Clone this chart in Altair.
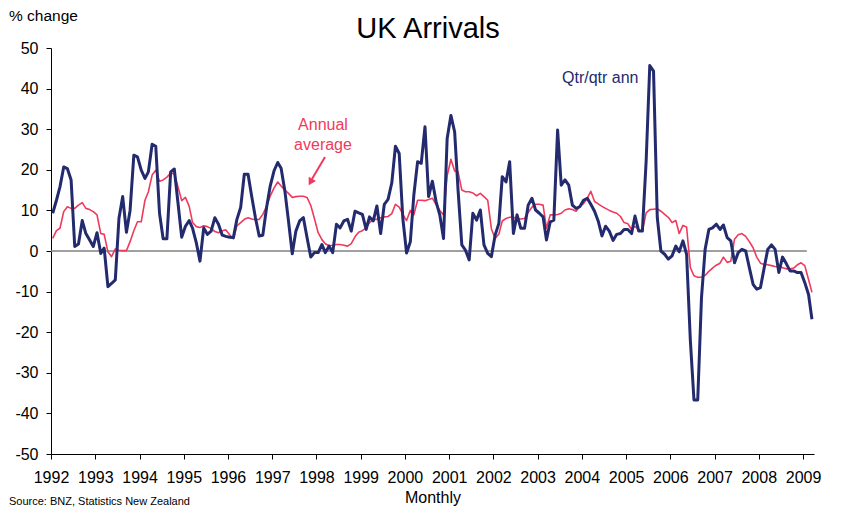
import altair as alt
import pandas as pd

# Quarter-on-quarter annualised % change, monthly from Jan 1992
qtr_ann = [
    9.3, 12.5, 15.8, 20.7, 20.3, 17.5, 1.1, 1.7, 7.5, 4.3, 2.7, 1.1,
    4.5, -0.6, 0.7, -8.8, -8.0, -7.1, 8.0, 13.4, 4.6, 10.0, 23.6, 23.2,
    19.9, 17.9, 19.5, 26.3, 25.8, 9.3, 3.0, 3.0, 19.5, 20.2, 11.7, 3.4,
    6.1, 7.5, 5.6, 2.0, -2.5, 5.7, 4.1, 4.9, 8.2, 6.6, 3.9, 3.6,
    3.4, 3.3, 7.8, 10.7, 18.9, 18.9, 13.5, 8.2, 3.7, 3.9, 10.7, 16.0,
    19.7, 21.8, 20.4, 14.8, 7.4, -0.7, 4.9, 7.4, 8.2, 3.3, -1.5, -0.4,
    -0.4, 1.6, -0.4, 1.2, -0.4, 6.6, 5.7, 7.4, 7.8, 4.9, 9.8, 9.4,
    9.0, 5.3, 8.4, 7.4, 11.1, 4.3, 11.5, 12.7, 16.8, 25.8, 24.0, 8.0,
    -0.5, 2.3, 13.8, 22.0, 21.6, 30.6, 13.4, 17.2, 12.1, 8.9, 3.1, 27.7,
    33.4, 29.3, 15.0, 1.5, 0.2, -2.2, 9.3, 7.6, 10.1, 1.5, -0.6, -1.4,
    3.9, 6.8, 18.3, 17.0, 22.0, 4.3, 8.9, 5.6, 5.6, 11.3, 13.0, 10.1,
    9.3, 8.4, 2.7, 7.2, 7.6, 29.8, 16.2, 17.5, 16.2, 11.3, 10.5, 10.9,
    12.5, 13.0, 11.5, 9.8, 7.4, 3.7, 6.1, 4.9, 2.6, 4.1, 4.3, 5.3,
    5.3, 4.3, 8.6, 4.9, 4.9, 22.1, 45.7, 44.3, 8.2, 0.0, -0.8, -2.0,
    -1.2, 1.2, -0.2, 2.5, -0.8, -22.0, -36.7, -36.7, -11.5, 0.4, 5.3, 5.7,
    6.6, 5.3, 6.4, 3.3, 2.5, -2.9, -0.4, 0.4, 0.0, -4.1, -8.2, -9.4,
    -9.0, -4.1, 0.4, 1.5, 0.4, -5.3, -1.5, -3.1, -4.9, -4.9, -5.3, -5.3,
    -7.8, -10.7, -16.8,
]

# Annual average % change, monthly from Jan 1992
annual_avg = [
    3.1, 5.0, 5.6, 9.7, 10.9, 10.5, 10.5, 11.3, 11.9, 10.5, 10.2, 9.7,
    8.9, 4.3, 4.1, -0.2, -1.4, 0.5, 0.2, 0.1, 0.1, 2.3, 5.0, 7.2,
    7.2, 12.5, 14.6, 18.7, 19.9, 17.2, 17.5, 18.2, 19.2, 19.0, 15.8, 12.4,
    13.2, 11.0, 7.0, 6.0, 5.8, 6.2, 6.0, 5.5, 4.8, 4.5, 5.0, 5.2,
    4.0, 3.0, 6.2, 7.0, 7.8, 8.2, 7.9, 7.7, 7.8, 9.0, 11.0, 13.5,
    15.5, 17.0, 16.0, 15.0, 14.2, 13.2, 13.4, 13.5, 13.5, 13.2, 11.2, 8.0,
    4.5, 2.8, 1.8, 1.3, 1.4, 1.6, 1.6, 1.4, 1.2, 1.8, 3.5, 4.6,
    5.0, 5.7, 7.0, 7.8, 7.8, 8.2, 8.4, 8.5, 9.2, 11.5, 10.8, 9.0,
    7.5, 10.0, 8.9, 12.5, 12.5, 12.4, 12.7, 13.0, 11.4, 10.0, 8.9, 18.5,
    22.6, 19.7, 19.5, 15.0, 14.6, 14.6, 14.3, 13.6, 14.2, 13.4, 12.5, 5.5,
    3.1, 4.2, 7.4, 8.0, 8.3, 8.3, 8.0, 7.9, 8.0, 9.5, 10.8, 11.5,
    11.5, 11.3, 5.6, 8.9, 8.9, 9.0, 9.3, 10.1, 10.4, 10.2, 9.8, 11.0,
    11.7, 13.0, 14.7, 12.2, 11.6, 11.0, 10.5, 10.0, 9.6, 9.3, 8.5, 7.0,
    6.7, 5.3, 6.1, 5.2, 4.9, 9.4, 10.2, 10.3, 10.4, 9.8, 9.0, 8.3,
    7.0, 7.5, 4.3, 6.3, 5.9, -4.1, -6.1, -6.5, -6.4, -6.0, -5.0, -4.2,
    -3.5, -3.0, -1.5, -2.8, -2.5, 2.9, 4.0, 4.3, 3.6, 2.3, 0.8, -1.5,
    -3.0, -3.3, -3.4, -3.6, -3.8, -3.9, -4.1, -4.4, -4.4, -4.2, -3.4, -2.9,
    -3.6, -7.0, -10.2,
]

years = list(range(1992, 2010))
y_ticks = list(range(-50, 51, 10))

BLUE = "#232B6E"
RED = "#EF3A5D"
FONT = "Liberation Sans"

dates = (pd.date_range("1992-01-01", periods=len(qtr_ann), freq="MS")
         + pd.Timedelta(days=14)).strftime("%Y-%m-%d")
df = pd.DataFrame({"date": dates, "qtr": qtr_ann, "avg": annual_avg})

x_scale = alt.Scale(domain=[alt.DateTime(year=1992, month=1, date=1),
                            alt.DateTime(year=2009, month=4, date=1)])
y_scale = alt.Scale(domain=[-50, 50], nice=False, zero=False)

x_axis = alt.Axis(values=[alt.DateTime(year=y, month=1, date=1) for y in years],
                  format="%Y", title=None, tickSize=5, labelFontSize=16,
                  labelPadding=10, labelFont=FONT, labelColor="black",
                  domainColor="black", tickColor="black", grid=False,
                  labelFlush=False, labelOverlap=False)
y_axis = alt.Axis(values=y_ticks, title=None, tickSize=5, labelFontSize=16,
                  labelPadding=8, labelFont=FONT, labelColor="black",
                  domainColor="black", tickColor="black", grid=False,
                  labelExpr="'' + datum.value")

base = alt.Chart(df)

zero_df = pd.DataFrame({"start": ["1992-01-01"], "end": ["2009-02-01"], "v": [0]})
zero_line = alt.Chart(zero_df).mark_rule(color="#808080", strokeWidth=1.5).encode(
    x=alt.X("start:T", scale=x_scale, axis=x_axis),
    x2="end:T",
    y=alt.Y("v:Q", scale=y_scale, axis=y_axis),
)

blue_line = base.mark_line(color=BLUE, strokeWidth=3, strokeJoin="round").encode(
    x=alt.X("date:T", scale=x_scale, axis=x_axis),
    y=alt.Y("qtr:Q", scale=y_scale, axis=y_axis),
)
red_line = base.mark_line(color=RED, strokeWidth=1.6, strokeJoin="round").encode(
    x=alt.X("date:T", scale=x_scale, axis=x_axis),
    y=alt.Y("avg:Q", scale=y_scale, axis=y_axis),
)


def label(text, x, y, size, color="black", align="center", weight="normal"):
    return alt.Chart(pd.DataFrame({"t": [text]})).mark_text(
        font=FONT, fontSize=size, color=color, align=align, baseline="alphabetic",
        fontWeight=weight,
    ).encode(text="t:N", x=alt.value(x), y=alt.value(y))


title = label("UK Arrivals", 377, -10, 29)
ylab = label("% change", -42, -27, 15.5, align="left")
xlab = label("Monthly", 382, 455, 16)
source = label("Source: BNZ, Statistics New Zealand", -42, 457, 11, align="left")
qtr_lab = label("Qtr/qtr ann", 511, 35, 16, color=BLUE, align="left")
ann1 = label("Annual", 272, 82, 16, color=RED)
ann2 = label("average", 272, 102, 16, color=RED)

arrow_df = pd.DataFrame({"a": [1]})
arrow_shaft = alt.Chart(arrow_df).mark_rule(color=RED, strokeWidth=2).encode(
    x=alt.value(274), y=alt.value(109), x2=alt.value(261), y2=alt.value(131)
)
arrow_head = alt.Chart(arrow_df).mark_point(
    shape="triangle-up", filled=True, color=RED, size=70, angle=210, opacity=1
).encode(x=alt.value(259.5), y=alt.value(134))

chart = alt.layer(
    zero_line, red_line, blue_line, title, ylab, xlab, source,
    qtr_lab, ann1, ann2, arrow_shaft, arrow_head,
).properties(
    width=763, height=406,
    padding={"left": 43, "top": 40, "right": 20, "bottom": 54},
    autosize=alt.AutoSizeParams(type="none"),
    background="white",
).configure_view(stroke=None)

chart.save("out.html", embed_options={"renderer": "svg", "actions": False})
